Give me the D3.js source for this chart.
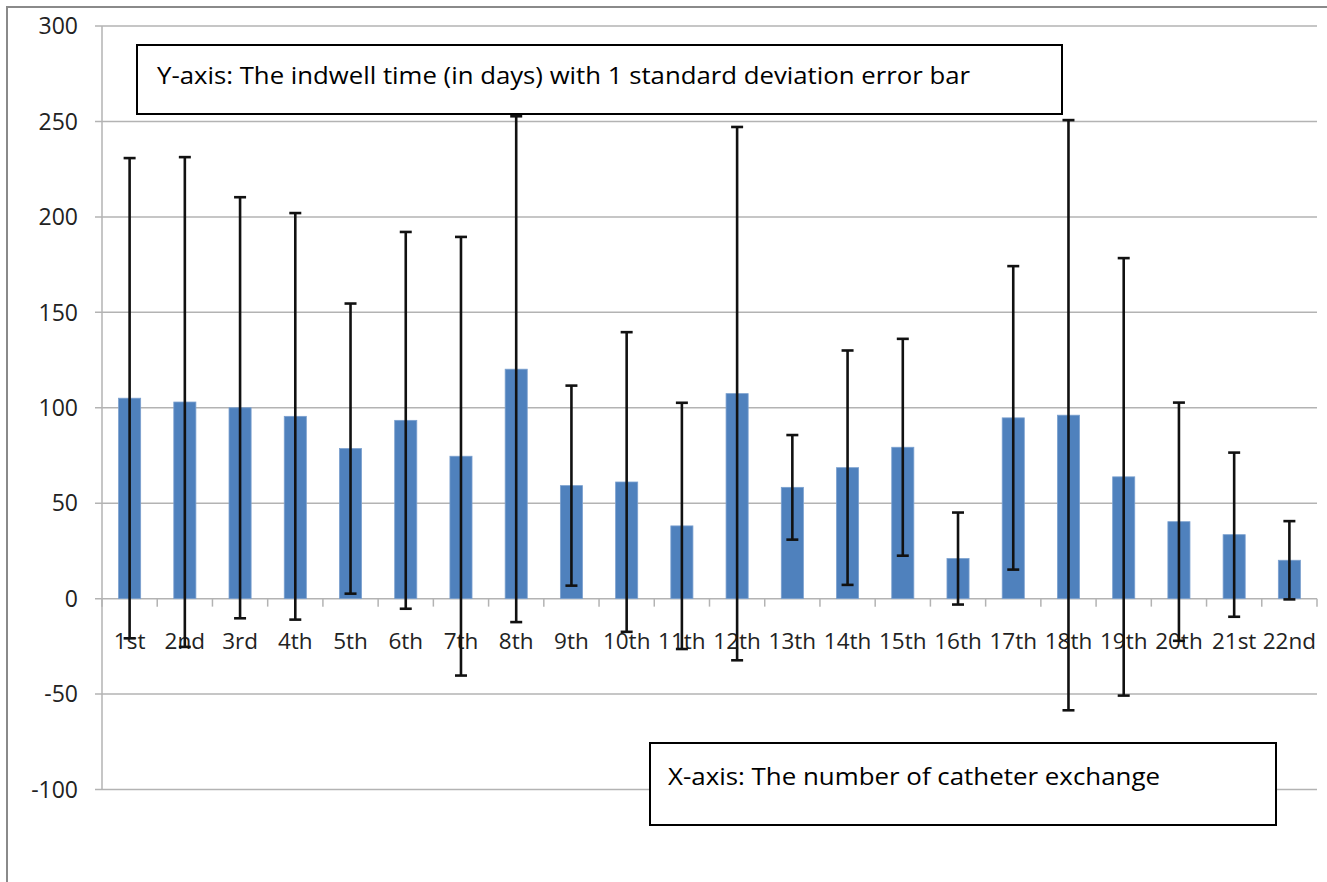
<!DOCTYPE html>
<html>
<head>
<meta charset="utf-8">
<script src="https://cdn.jsdelivr.net/npm/d3@7"></script>
<style>
  body { margin: 0; background: #fff; }
  text { font-family: "Open Sans", sans-serif; fill: #222; }
</style>
</head>
<body>
<div id="chartArea"></div>
<script>
const width = 1327;
const height = 882;

// catheter exchange order
const exchanges = ["1st", "2nd", "3rd", "4th", "5th", "6th", "7th", "8th", "9th", "10th", "11th",
    "12th", "13th", "14th", "15th", "16th", "17th", "18th", "19th", "20th", "21st", "22nd"];
// mean indwell time (days)
const meanDays = [105, 103, 100, 95.5, 78.6, 93.4, 74.6, 120.2, 59.2, 61.1, 38.1,
    107.4, 58.3, 68.6, 79.3, 21, 94.7, 96.1, 63.8, 40.3, 33.5, 20.1];
// 1 standard deviation
const sdDays = [125.8, 128.3, 110.3, 106.5, 76, 98.7, 114.9, 132.5, 52.4, 78.5, 64.5,
    139.7, 27.4, 61.4, 56.8, 24.1, 79.5, 154.6, 114.6, 62.4, 43, 20.5];
const yTicks = [-100, -50, 0, 50, 100, 150, 200, 250, 300];

const margin = { left: 102, right: 10, top: 26, bottom: 92 };

const svg = d3.select("#chartArea")
    .append("svg")
    .attr("width", width)
    .attr("height", height);

svg.append("rect").attr("width", width).attr("height", height).attr("fill", "#fff");

// outer chart frame (only top/left visible)
svg.append("path")
    .attr("d", `M7,${height} L7,7 L${width},7`)
    .attr("fill", "none")
    .attr("stroke", "#8a8a8a")
    .attr("stroke-width", 2);

const x = d3.scaleBand()
    .domain(exchanges)
    .range([margin.left, 1317]);

const y = d3.scaleLinear()
    .domain([-100, 300])
    .range([789.5, margin.top]);

// gridlines + y ticks
svg.append("g")
    .selectAll("line")
    .data(yTicks)
    .enter().append("line")
    .attr("x1", margin.left - 7)
    .attr("x2", 1317)
    .attr("y1", d => y(d))
    .attr("y2", d => y(d))
    .attr("stroke", "#b3b3b3")
    .attr("stroke-width", 1.5);

svg.append("g")
    .selectAll("text")
    .data(yTicks)
    .enter().append("text")
    .attr("x", 78)
    .attr("y", d => y(d))
    .attr("dy", "0.36em")
    .attr("text-anchor", "end")
    .style("font-size", "23px")
    .text(d => d);

// y axis line
svg.append("line")
    .attr("x1", margin.left).attr("x2", margin.left)
    .attr("y1", y(300)).attr("y2", y(-100))
    .attr("stroke", "#b3b3b3")
    .attr("stroke-width", 1.5);

// x tick marks at category boundaries
const bounds = exchanges.map(d => x(d)).concat([x.range()[1]]);
svg.append("g")
    .selectAll("line")
    .data(bounds)
    .enter().append("line")
    .attr("x1", d => d).attr("x2", d => d)
    .attr("y1", y(0)).attr("y2", y(0) + 8)
    .attr("stroke", "#b3b3b3")
    .attr("stroke-width", 1.5);

// bars
const barW = x.bandwidth() / 2.5;
svg.append("g")
    .selectAll("rect")
    .data(exchanges)
    .enter().append("rect")
    .attr("x", d => x(d) + (x.bandwidth() - barW) / 2)
    .attr("width", barW)
    .attr("y", (d, i) => y(meanDays[i]))
    .attr("height", (d, i) => y(0) - y(meanDays[i]))
    .attr("fill", "#4f81bd")
    .attr("stroke", "#7ba0cf")
    .attr("stroke-width", 0.8);

// x labels
svg.append("g")
    .selectAll("text")
    .data(exchanges)
    .enter().append("text")
    .attr("x", d => x(d) + x.bandwidth() / 2)
    .attr("y", 649)
    .attr("text-anchor", "middle")
    .style("font-size", "22.5px")
    .text(d => d);

// error bars
const err = svg.append("g")
    .attr("stroke", "#111")
    .attr("stroke-width", 2.6);

exchanges.forEach((d, i) => {
    const cx = x(d) + x.bandwidth() / 2;
    const hi = y(meanDays[i] + sdDays[i]);
    const lo = y(meanDays[i] - sdDays[i]);
    err.append("line").attr("x1", cx).attr("x2", cx).attr("y1", hi).attr("y2", lo);
    err.append("line").attr("x1", cx - 6).attr("x2", cx + 6).attr("y1", hi).attr("y2", hi);
    err.append("line").attr("x1", cx - 6).attr("x2", cx + 6).attr("y1", lo).attr("y2", lo);
});

// annotation boxes
function noteBox(bx, by, bw, bh, label, tx, ty, tlen) {
    svg.append("rect")
        .attr("x", bx).attr("y", by)
        .attr("width", bw).attr("height", bh)
        .attr("fill", "#fff")
        .attr("stroke", "#000")
        .attr("stroke-width", 2);
    svg.append("text")
        .attr("x", tx).attr("y", ty)
        .attr("textLength", tlen)
        .attr("lengthAdjust", "spacingAndGlyphs")
        .style("font-size", "24px")
        .style("fill", "#000")
        .text(label);
}

noteBox(137, 45, 925, 69, "Y-axis: The indwell time (in days) with 1 standard deviation error bar", 157, 84, 813);
noteBox(650, 743, 626, 82, "X-axis: The number of catheter exchange", 668, 785, 492);
</script>
</body>
</html>
